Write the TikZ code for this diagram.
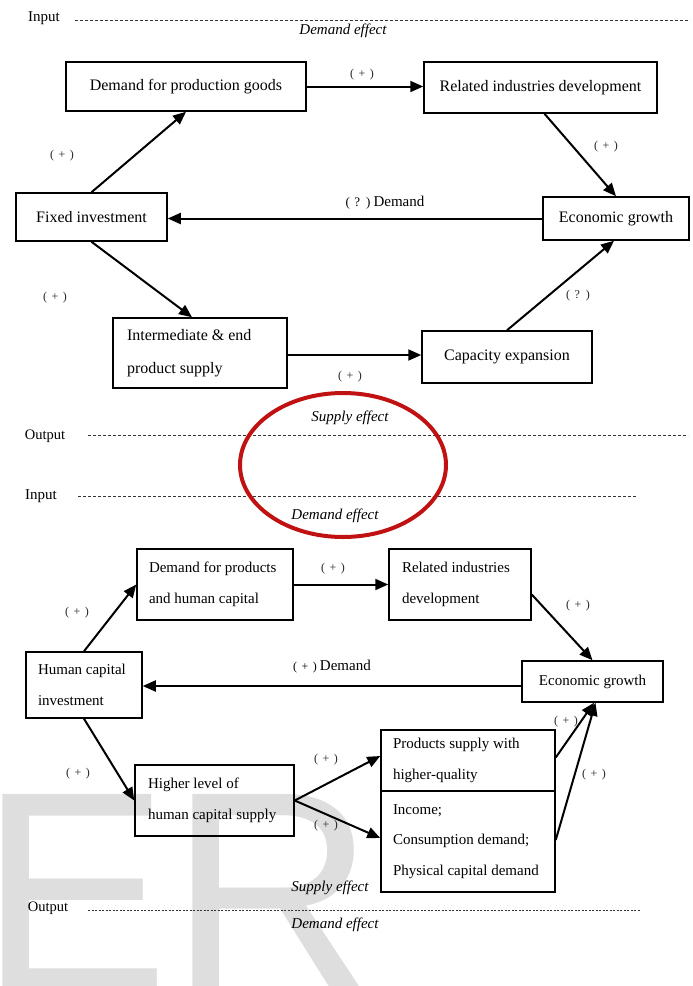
\documentclass[tikz,border=0pt]{standalone}
\usepackage{fontspec}
\setmainfont{Liberation Serif}
\newfontfamily\wmfont{Liberation Sans}
\usetikzlibrary{arrows.meta,shapes.geometric}
\definecolor{ellred}{RGB}{192,18,18}
\definecolor{wmgray}{RGB}{222,222,222}
\newcommand{\plussign}{(\kern4.5pt+\kern4.5pt)}
\newcommand{\qsign}{(\kern4.5pt?\kern6pt)}
\begin{document}
\begin{tikzpicture}[x=1pt,y=-1pt,
 box/.style={draw, line width=1.5pt, inner sep=0pt, font=\fontsize{16}{20}\selectfont},
 tbox/.style={draw, line width=1.5pt, inner sep=0pt, align=flush left, font=\fontsize{16}{33}\selectfont},
 mbox/.style={draw, line width=1.5pt, inner sep=0pt, align=flush left, font=\fontsize{15}{30.5}\selectfont},
 arr/.style={line width=2pt, -{Triangle[length=13pt,width=11pt]}},
 sign/.style={font=\fontsize{12}{14}\selectfont, text=black!85, inner sep=0pt},
 lbl/.style={font=\fontsize{15}{18}\selectfont, inner sep=0pt},
 eff/.style={font=\itshape\fontsize{15}{18}\selectfont, inner sep=0pt},
 level/.style={line width=1pt, dash pattern=on 3pt off 2pt, black!80},
]
\useasboundingbox (0,0) rectangle (693,986);
\begin{scope}
\clip (0,0) rectangle (693,986);
\node[anchor=base west, inner sep=0pt, text=wmgray, font=\wmfont\fontsize{285}{285}\selectfont] (wm) at (-20.5,990) {ER};
\end{scope}

% ---------- top diagram ----------
\node[lbl] (in1) at (44,18) {Input};
\coordinate (in1a) at (75,20);
\coordinate (in1b) at (690,20);
\draw[level] (in1a) -- (in1b);
\node[eff] (de1) at (343,31) {Demand effect};

\node[box, minimum width=240pt, minimum height=49pt] (A) at (186,86.5) {Demand for production goods};
\node[box, minimum width=233pt, minimum height=51pt] (B) at (540.5,87.5) {Related industries development};
\node[box, minimum width=151pt, minimum height=48pt] (C) at (91.5,217) {Fixed investment};
\node[box, minimum width=146pt, minimum height=43pt] (D) at (616,218.5) {Economic growth};
\node[tbox, minimum width=174pt, minimum height=70pt, text width=146pt] (E) at (200,353) {Intermediate \& end\\product supply};
\node[box, minimum width=170pt, minimum height=52pt] (F) at (507,357) {Capacity expansion};

\draw[arr] (A.east) -- (A.east -| B.west);
\draw[arr] (D.west) -- (D.west -| C.east);
\draw[arr] (C.north) -- (A.south);
\draw[arr] ([xshift=4pt]B.south) -- (D.north);
\draw[arr] (C.south) -- ([xshift=-8pt]E.north);
\draw[arr] ([yshift=-2pt]E.east) -- ([yshift=-2pt]E.east -| F.west);
\draw[arr] (F.north) -- ([xshift=-2pt]D.south);

\node[sign] (s1) at (362,75) {\plussign};
\node[sign] (s2) at (62,156) {\plussign};
\node[sign] (s3) at (606,147) {\plussign};
\node[inner sep=0pt, font=\fontsize{15}{18}\selectfont] (s4) at (385,203) {{\fontsize{13}{15}\selectfont\qsign}\kern3pt Demand};
\node[sign] (s5) at (55,298) {\plussign};
\node[sign] (s6) at (578,296) {\qsign};
\node[sign] (s7) at (350,377) {\plussign};

% ---------- middle ----------
\node[eff] (se1) at (350,418) {Supply effect};
\node[lbl, font=\fontsize{14.5}{18}\selectfont] (out1) at (45,436) {Output};
\coordinate (out1a) at (88,435);
\coordinate (out1b) at (688,435);
\draw[level] (out1a) -- (out1b);
\node[lbl] (in2) at (41,496) {Input};
\coordinate (in2a) at (78,496);
\coordinate (in2b) at (637,496);
\draw[level] (in2a) -- (in2b);
\node[eff] (de2) at (335,516) {Demand effect};
\node[draw=ellred, line width=4pt, ellipse, minimum width=206pt, minimum height=144pt, inner sep=0pt] (ring) at (343,465) {};

% ---------- bottom diagram ----------
\node[mbox, minimum width=156pt, minimum height=71pt, text width=132pt] (G) at (215,584.5) {Demand for products\\and human capital};
\node[mbox, minimum width=142pt, minimum height=71pt, text width=116pt] (H) at (460,584.5) {Related industries\\development};
\node[mbox, minimum width=116pt, minimum height=66pt, text width=92pt] (I) at (84,685) {Human capital\\investment};
\node[box, font=\fontsize{15}{18}\selectfont, minimum width=141pt, minimum height=41pt] (J) at (592.5,681.5) {Economic growth};
\node[mbox, minimum width=159pt, minimum height=71pt, text width=133pt] (K) at (214.5,800.5) {Higher level of\\\mbox{human capital supply}};
\node[mbox, minimum width=174pt, minimum height=61pt, text width=150pt] (L1) at (468,760.5) {Products supply with\\higher-quality};
\node[mbox, minimum width=174pt, minimum height=101pt, text width=150pt] (L2) at (468,841.5) {Income;\\\mbox{Consumption demand;}\\\mbox{Physical capital demand}};

\draw[arr] (G.east) -- (G.east -| H.west);
\draw[arr] ([yshift=-4.5pt]J.west) -- ([yshift=-4.5pt]J.west -| I.east);
\draw[arr] (I.north) -- (G.west);
\draw[arr] ([yshift=-10pt]H.east) -- (J.north);
\draw[arr] (I.south) -- (K.west);
\draw[arr] (K.east) -- ([yshift=4.5pt]L1.west);
\draw[arr] (K.east) -- ([yshift=3.5pt]L2.west);
\draw[arr] ([yshift=3pt]L1.east) -- ([xshift=1.5pt]J.south);
\draw[arr] ([yshift=1.5pt]L2.east) -- ([xshift=3pt]J.south);

\node[sign] (t1) at (333,569) {\plussign};
\node[sign] (t2) at (77,613) {\plussign};
\node[sign] (t3) at (578,606) {\plussign};
\node[inner sep=0pt, font=\fontsize{15}{18}\selectfont] (t4) at (332,667) {{\fontsize{12}{14}\selectfont\plussign}\kern3pt Demand};
\node[sign] (t5) at (78,774) {\plussign};
\node[sign] (t6) at (326,760) {\plussign};
\node[sign] (t7) at (326,826) {\plussign};
\node[sign] (t8) at (566,722) {\plussign};
\node[sign] (t9) at (594,775) {\plussign};

\node[eff] (se2) at (330,888) {Supply effect};
\node[lbl, font=\fontsize{14.5}{18}\selectfont] (out2) at (48,908) {Output};
\coordinate (out2a) at (88,910);
\coordinate (out2b) at (640,910);
\draw[level, dash pattern=on 2pt off 1.5pt] (out2a) -- (out2b);
\node[eff] (de3) at (335,925) {Demand effect};
\end{tikzpicture}
\end{document}
